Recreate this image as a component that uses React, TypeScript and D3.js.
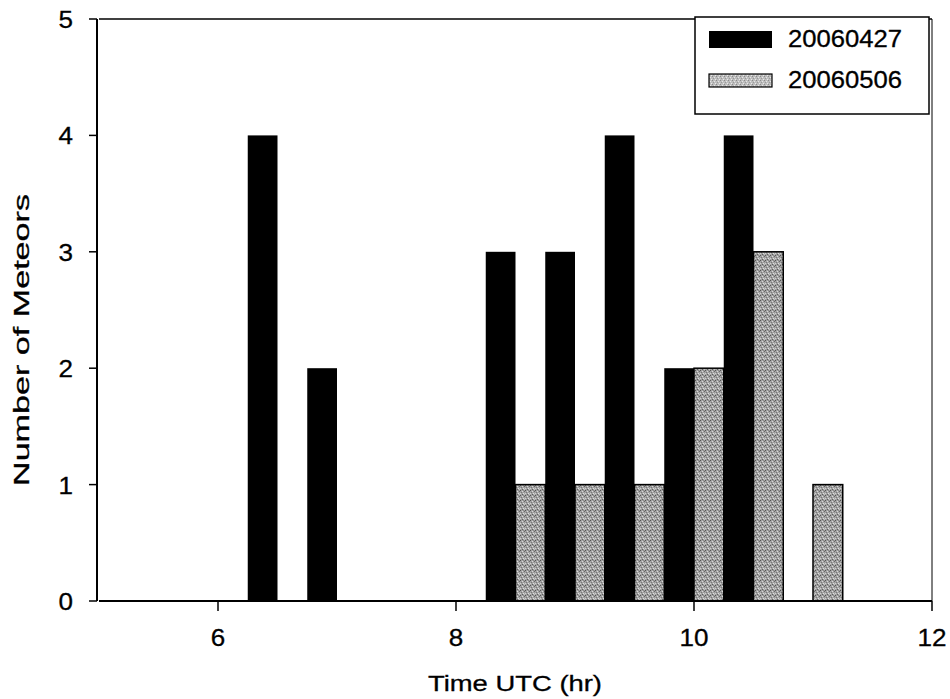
import React from "react";
import * as d3 from "d3";

const binCenters = [6.5, 7.0, 7.5, 8.0, 8.5, 9.0, 9.5, 10.0, 10.5, 11.0];
const series20060427 = [4, 2, 0, 0, 3, 3, 4, 2, 4, 0];
const series20060506 = [0, 0, 0, 0, 1, 1, 1, 2, 3, 1];
const seriesNames = ["20060427", "20060506"];
const xTicks = [6, 8, 10, 12];
const yTicks = [0, 1, 2, 3, 4, 5];
const halfBin = 0.25;

const W = 950;
const H = 699;
const FONT = "'Liberation Sans', Arial, sans-serif";

function T({ x, y, children, anchor = "middle", size = 21, len, rotate = 0 }: any) {
  return (
    <text
      transform={`translate(${x},${y}) rotate(${rotate})`}
      textAnchor={anchor}
      fontFamily={FONT}
      fontSize={size}
      fill="#000"
      stroke="#000"
      strokeWidth={0.3}
      textLength={len}
      lengthAdjust={len ? "spacingAndGlyphs" : undefined}
    >
      {children}
    </text>
  );
}

export default function App() {
  const x = d3.scaleLinear().domain([5, 12]).range([99, 932]);
  const y = d3.scaleLinear().domain([0, 5]).range([601, 19]);

  const blackBars = binCenters
    .map((c, i) => ({ c, v: series20060427[i] }))
    .filter((d) => d.v > 0);
  const grayBars = binCenters
    .map((c, i) => ({ c, v: series20060506[i] }))
    .filter((d) => d.v > 0);

  return (
    <svg width={W} height={H} style={{ position: "absolute", left: 0, top: 0, background: "#fff" }}>
      <defs>
        <pattern id="grayTex" width="5" height="5" patternUnits="userSpaceOnUse">
          <rect width="5" height="5" fill="#a2a2a2" />
          <rect x="0" y="0" width="1" height="1" fill="#555" />
          <rect x="2" y="1" width="1" height="1" fill="#d8d8d8" />
          <rect x="4" y="1" width="1" height="1" fill="#6a6a6a" />
          <rect x="1" y="2" width="1" height="1" fill="#777" />
          <rect x="3" y="3" width="1" height="1" fill="#e0e0e0" />
          <rect x="3" y="0" width="1" height="1" fill="#888" />
          <rect x="0" y="3" width="1" height="1" fill="#cfcfcf" />
          <rect x="2" y="4" width="1" height="1" fill="#5e5e5e" />
          <rect x="4" y="4" width="1" height="1" fill="#c4c4c4" />
        </pattern>
        <pattern id="grayTexLight" width="4" height="4" patternUnits="userSpaceOnUse">
          <rect width="4" height="4" fill="#bdbdbd" />
          <rect x="0" y="0" width="1" height="1" fill="#8a8a8a" />
          <rect x="2" y="1" width="1" height="1" fill="#e6e6e6" />
          <rect x="1" y="2" width="1" height="1" fill="#999" />
          <rect x="3" y="3" width="1" height="1" fill="#eaeaea" />
        </pattern>
      </defs>

      {/* frame top and right */}
      <line x1={x(5)} x2={x(12)} y1={y(5)} y2={y(5)} stroke="#000" strokeWidth={1.5} />
      <line x1={x(12)} x2={x(12)} y1={y(5)} y2={y(0)} stroke="#000" strokeWidth={1} />

      {/* bars */}
      {blackBars.map((d, i) => (
        <rect
          key={"b" + i}
          x={x(d.c - halfBin)}
          y={y(d.v)}
          width={x(d.c) - x(d.c - halfBin)}
          height={y(0) - y(d.v)}
          fill="#000"
        />
      ))}
      {grayBars.map((d, i) => (
        <rect
          key={"g" + i}
          x={x(d.c)}
          y={y(d.v)}
          width={x(d.c + halfBin) - x(d.c)}
          height={y(0) - y(d.v)}
          fill="url(#grayTex)"
          stroke="#000"
          strokeWidth={1.5}
        />
      ))}

      {/* axes */}
      <line x1={x(5)} x2={x(12)} y1={y(0)} y2={y(0)} stroke="#000" strokeWidth={2} />
      <line x1={x(5) - 2} x2={x(5) - 2} y1={y(5)} y2={y(0)} stroke="#000" strokeWidth={2} />

      {xTicks.map((t) => (
        <g key={"xt" + t}>
          <line x1={x(t)} x2={x(t)} y1={y(0)} y2={y(0) + 10} stroke="#000" strokeWidth={1.5} />
          <T x={x(t)} y={y(0) + 45} size={24} len={String(t).length * 14.5}>
            {t}
          </T>
        </g>
      ))}
      {yTicks.map((t) => (
        <g key={"yt" + t}>
          <line x1={x(5) - 10} x2={x(5) - 2} y1={y(t)} y2={y(t)} stroke="#000" strokeWidth={1.5} />
          <T x={73} y={y(t) + 9} anchor="end" size={24} len={14.5}>
            {t}
          </T>
        </g>
      ))}

      {/* axis titles */}
      <T x={515} y={691} size={22} len={174}>
        Time UTC (hr)
      </T>
      <T x={29} y={340} size={22} rotate={-90} len={292}>
        Number of Meteors
      </T>

      {/* legend */}
      <rect x={695} y={17} width={234} height={97} fill="#fff" stroke="#000" strokeWidth={1.5} />
      <rect x={709} y={31} width={63} height={17} fill="#000" />
      <rect x={709} y={74} width={63} height={13} fill="url(#grayTexLight)" stroke="#000" strokeWidth={1.2} />
      <T x={788} y={47} anchor="start" size={23} len={114}>
        {seriesNames[0]}
      </T>
      <T x={788} y={88} anchor="start" size={23} len={114}>
        {seriesNames[1]}
      </T>
    </svg>
  );
}
